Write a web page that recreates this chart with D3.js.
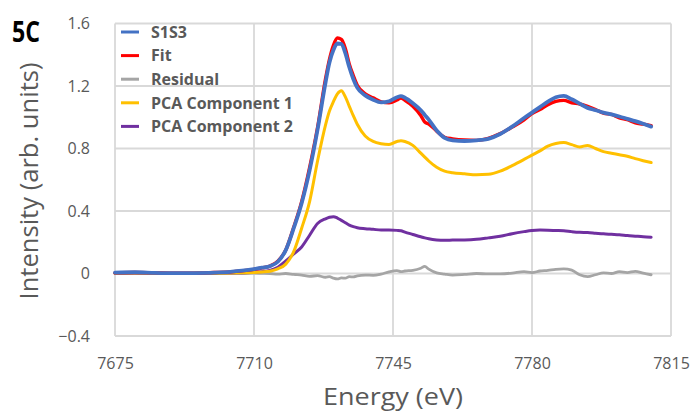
<!DOCTYPE html>
<html><head><meta charset="utf-8">
<script src="https://cdn.jsdelivr.net/npm/d3@7"></script>
<style>html,body{margin:0;padding:0;background:#fff}svg{display:block}</style>
</head><body><svg id="c" width="692" height="411"></svg>
<script>
const energy = [7675,7680,7685,7690,7695,7700,7704,7707,7710,7712,7714,7716,7718,7720,7722,7724,7726,7728,7729,7730,7731,7732,7733,7734,7735,7736,7738,7740,7742,7744,7746,7747,7748,7750,7752,7753,7754,7756,7758,7760,7763,7766,7769,7772,7775,7778,7780,7782,7784,7786,7788,7790,7792,7794,7796,7798,7800,7802,7804,7806,7808,7810];
const s1s3 = [0.005,0.008,0.004,0.002,0.003,0.006,0.011,0.018,0.028,0.037,0.047,0.075,0.15,0.29,0.45,0.66,0.92,1.22,1.35,1.43,1.472,1.47,1.41,1.32,1.245,1.19,1.14,1.112,1.095,1.102,1.128,1.135,1.125,1.09,1.045,1.015,0.985,0.915,0.868,0.852,0.848,0.852,0.862,0.893,0.94,0.995,1.03,1.065,1.10,1.128,1.137,1.115,1.087,1.06,1.045,1.03,1.018,1.005,0.99,0.975,0.958,0.94];
const fit = [0.004,0.006,0.004,0.002,0.002,0.006,0.010,0.018,0.026,0.036,0.047,0.079,0.15,0.296,0.46,0.678,0.934,1.244,1.37,1.46,1.507,1.498,1.44,1.34,1.267,1.205,1.15,1.124,1.099,1.092,1.11,1.123,1.109,1.07,1.011,0.969,0.957,0.911,0.872,0.862,0.854,0.852,0.865,0.895,0.937,0.983,1.024,1.049,1.08,1.101,1.108,1.093,1.085,1.07,1.05,1.026,1.018,0.996,0.984,0.964,0.956,0.946];
const residual = [0.001,0.002,0.0,0.0,0.001,0.0,0.001,0.0,0.002,0.001,0.0,-0.004,0.0,-0.006,-0.01,-0.018,-0.014,-0.024,-0.02,-0.03,-0.035,-0.028,-0.03,-0.02,-0.022,-0.015,-0.01,-0.012,-0.004,0.01,0.018,0.012,0.016,0.02,0.034,0.046,0.028,0.004,-0.004,-0.01,-0.006,0.0,-0.003,-0.002,0.003,0.012,0.006,0.016,0.02,0.027,0.029,0.022,-0.008,-0.02,-0.008,0.004,0.0,0.012,0.006,0.014,0.002,-0.008];
const pca1 = [0.002,0.003,0.001,0.0,0.001,0.002,0.003,0.005,0.007,0.01,0.015,0.03,0.06,0.14,0.29,0.46,0.72,0.95,1.04,1.10,1.15,1.17,1.13,1.07,1.01,0.955,0.88,0.845,0.83,0.825,0.845,0.85,0.845,0.82,0.77,0.745,0.72,0.68,0.655,0.645,0.638,0.632,0.635,0.655,0.69,0.73,0.758,0.785,0.815,0.832,0.838,0.825,0.81,0.82,0.80,0.78,0.77,0.76,0.75,0.735,0.722,0.71];
const pca2 = [0.002,0.004,0.002,0.001,0.001,0.002,0.003,0.005,0.008,0.012,0.02,0.04,0.08,0.125,0.17,0.245,0.32,0.35,0.36,0.364,0.355,0.34,0.325,0.31,0.30,0.293,0.287,0.283,0.278,0.278,0.276,0.274,0.265,0.25,0.235,0.228,0.222,0.215,0.213,0.214,0.215,0.219,0.228,0.238,0.255,0.268,0.275,0.278,0.277,0.275,0.273,0.268,0.264,0.262,0.258,0.254,0.251,0.248,0.243,0.239,0.235,0.232];
const xTicks = [7675,7710,7745,7780,7815];
const yTicks = [-0.4,0,0.4,0.8,1.2,1.6];
const seriesNames = ["S1S3","Fit","Residual","PCA Component 1","PCA Component 2"];
const seriesColors = ["#4472C4","#FF0000","#A5A5A5","#FFC000","#7030A0"];

const svg = d3.select("#c");
const L = 115, R = 671, T = 23.5, B = 336;
const x = d3.scaleLinear().domain([7675,7815]).range([L,R]);
const y = d3.scaleLinear().domain([-0.4,1.6]).range([B,T]);
const font = "'Open Sans', sans-serif";

// gridlines
const grid = svg.append("g").attr("stroke","#d9d9d9").attr("stroke-width",1.8);
grid.selectAll("line.h").data(yTicks).join("line")
  .attr("x1",L).attr("x2",R).attr("y1",d=>y(d)).attr("y2",d=>y(d));
grid.selectAll("line.v").data(xTicks).join("line")
  .attr("y1",T).attr("y2",B).attr("x1",d=>x(d)).attr("x2",d=>x(d));

// axes (labels only)
const xAxis = svg.append("g").attr("transform",`translate(0,${B})`)
  .call(d3.axisBottom(x).tickValues(xTicks).tickSize(0).tickPadding(22).tickFormat(d3.format("d")));
const yAxis = svg.append("g").attr("transform",`translate(${L},0)`)
  .call(d3.axisLeft(y).tickValues(yTicks).tickSize(0).tickPadding(25).tickFormat(d=>d===0?"0":d3.format(".1f")(d)));
[xAxis,yAxis].forEach(a=>{
  a.select(".domain").remove();
  a.selectAll("text").attr("font-family",font).attr("font-size",16).attr("fill","#595959");
});

// series
const series = [
  {name:"Residual", vals:residual, color:seriesColors[2], w:2.8},
  {name:"PCA Component 2", vals:pca2, color:seriesColors[4], w:3},
  {name:"PCA Component 1", vals:pca1, color:seriesColors[3], w:3},
  {name:"Fit", vals:fit, color:seriesColors[1], w:3.4},
  {name:"S1S3", vals:s1s3, color:seriesColors[0], w:3.8}
];
const line = d3.line().x((d,i)=>x(energy[i])).y(d=>y(d)).curve(d3.curveMonotoneX);
svg.append("g").selectAll("path").data(series).join("path")
  .attr("d",d=>line(d.vals)).attr("fill","none")
  .attr("stroke",d=>d.color).attr("stroke-width",d=>d.w)
  .attr("stroke-linejoin","round").attr("stroke-linecap","round");

// legend
const lg = svg.append("g");
seriesNames.forEach((n,i)=>{
  const cy = 32 + i*23.6;
  lg.append("line").attr("x1",121).attr("x2",139).attr("y1",cy).attr("y2",cy)
    .attr("stroke",seriesColors[i]).attr("stroke-width",3);
  lg.append("text").attr("x",151).attr("y",cy).attr("dy","0.36em")
    .attr("font-family",font).attr("font-weight","bold").attr("font-size",16)
    .attr("fill","#595959").text(n);
});

// titles
svg.append("text").attr("x",393).attr("y",405).attr("text-anchor","middle")
  .attr("font-family",font).attr("font-size",24).attr("fill","#595959")
  .attr("textLength",140).attr("lengthAdjust","spacingAndGlyphs").text("Energy (eV)");
svg.append("text").attr("transform","translate(38,181) rotate(-90)").attr("text-anchor","middle")
  .attr("font-family",font).attr("font-size",25).attr("fill","#595959")
  .attr("textLength",237).attr("lengthAdjust","spacingAndGlyphs").text("Intensity (arb. units)");
svg.append("text").attr("x",12).attr("y",42)
  .attr("font-family",font).attr("font-weight","bold").attr("font-size",28).attr("fill","#000")
  .attr("textLength",28).attr("lengthAdjust","spacingAndGlyphs").text("5C");
</script></body></html>
